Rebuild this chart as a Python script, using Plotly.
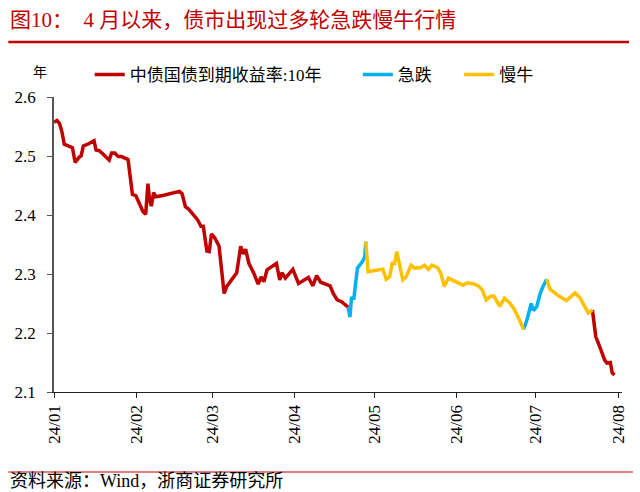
import pandas as pd
import plotly.graph_objects as go

# ---- data ----
dates = [
    "2024-01-01 00:00", "2024-01-02 03:00", "2024-01-03 02:00", "2024-01-04 00:00", "2024-01-04 21:00",
    "2024-01-06 11:00", "2024-01-07 23:00", "2024-01-09 00:00", "2024-01-09 15:00", "2024-01-10 12:00",
    "2024-01-11 06:00", "2024-01-12 02:00", "2024-01-13 18:00", "2024-01-15 06:00", "2024-01-16 03:00",
    "2024-01-16 21:00", "2024-01-18 02:00", "2024-01-19 14:00", "2024-01-21 20:00", "2024-01-22 18:00",
    "2024-01-23 23:00", "2024-01-25 05:00", "2024-01-26 12:00", "2024-01-28 23:00", "2024-01-29 15:00",
    "2024-01-30 15:00", "2024-01-31 21:00", "2024-02-02 09:00", "2024-02-03 14:00", "2024-02-04 15:00",
    "2024-02-05 11:00", "2024-02-06 03:00", "2024-02-06 18:00", "2024-02-07 15:00", "2024-02-08 09:00",
    "2024-02-11 02:00", "2024-02-14 06:00", "2024-02-17 09:00", "2024-02-18 09:00", "2024-02-19 15:00",
    "2024-02-20 20:00", "2024-02-22 03:00", "2024-02-23 06:00", "2024-02-24 05:00", "2024-02-25 12:00",
    "2024-02-26 09:00", "2024-02-27 18:00", "2024-02-28 15:00", "2024-02-29 11:00", "2024-03-01 18:00",
    "2024-03-03 08:00", "2024-03-05 06:00", "2024-03-06 06:00", "2024-03-08 08:00", "2024-03-10 00:00",
    "2024-03-11 12:00", "2024-03-12 11:00", "2024-03-13 09:00", "2024-03-14 14:00", "2024-03-16 12:00",
    "2024-03-18 02:00", "2024-03-19 05:00", "2024-03-20 06:00", "2024-03-21 11:00", "2024-03-23 08:00",
    "2024-03-25 00:00", "2024-03-26 06:00", "2024-03-27 02:00", "2024-03-28 09:00", "2024-03-30 06:00",
    "2024-03-31 05:00", "2024-04-02 08:00", "2024-04-04 06:00", "2024-04-06 02:00", "2024-04-07 17:00",
    "2024-04-09 05:00", "2024-04-10 17:00", "2024-04-12 09:00", "2024-04-14 06:00", "2024-04-15 11:00",
    "2024-04-16 23:00", "2024-04-18 14:00", "2024-04-20 11:00", "2024-04-21 02:00", "2024-04-21 18:00",
    "2024-04-22 08:00", "2024-04-23 06:00", "2024-04-24 14:00", "2024-04-26 11:00", "2024-04-27 09:00",
    "2024-04-27 18:00", "2024-04-28 15:00", "2024-05-01 03:00", "2024-05-04 05:00", "2024-05-05 11:00",
    "2024-05-06 18:00", "2024-05-07 17:00", "2024-05-08 15:00", "2024-05-09 11:00", "2024-05-10 12:00",
    "2024-05-11 17:00", "2024-05-12 23:00", "2024-05-14 20:00", "2024-05-16 03:00", "2024-05-18 14:00",
    "2024-05-19 21:00", "2024-05-21 11:00", "2024-05-22 17:00", "2024-05-24 20:00", "2024-05-26 02:00",
    "2024-05-27 09:00", "2024-05-28 23:00", "2024-05-31 03:00", "2024-06-02 00:00", "2024-06-03 12:00",
    "2024-06-05 02:00", "2024-06-07 15:00", "2024-06-09 12:00", "2024-06-10 17:00", "2024-06-12 05:00",
    "2024-06-13 20:00", "2024-06-15 03:00", "2024-06-17 08:00", "2024-06-19 02:00", "2024-06-21 03:00",
    "2024-06-22 14:00", "2024-06-24 12:00", "2024-06-25 17:00", "2024-06-26 08:00", "2024-06-27 14:00",
    "2024-06-29 05:00", "2024-06-30 02:00", "2024-07-01 08:00", "2024-07-02 14:00", "2024-07-03 14:00",
    "2024-07-05 02:00", "2024-07-06 08:00", "2024-07-07 14:00", "2024-07-09 12:00", "2024-07-12 14:00",
    "2024-07-14 11:00", "2024-07-15 17:00", "2024-07-17 14:00", "2024-07-19 11:00", "2024-07-20 18:00",
    "2024-07-22 08:00", "2024-07-23 14:00", "2024-07-25 02:00", "2024-07-26 23:00", "2024-07-27 20:00",
    "2024-07-29 02:00", "2024-07-29 20:00", "2024-07-30 17:00",
]
yield_10y = [
    2.557, 2.560, 2.555, 2.541, 2.520, 2.517, 2.514, 2.489, 2.494, 2.498,
    2.500, 2.517, 2.520, 2.523, 2.526, 2.510, 2.509, 2.503, 2.493, 2.505,
    2.505, 2.499, 2.499, 2.494, 2.471, 2.435, 2.433, 2.417, 2.406, 2.401,
    2.453, 2.425, 2.415, 2.438, 2.431, 2.433, 2.436, 2.440, 2.436, 2.414,
    2.410, 2.403, 2.398, 2.392, 2.381, 2.381, 2.339, 2.338, 2.368, 2.361,
    2.347, 2.267, 2.279, 2.291, 2.302, 2.347, 2.334, 2.342, 2.318, 2.301,
    2.283, 2.295, 2.287, 2.307, 2.312, 2.318, 2.290, 2.302, 2.293, 2.304,
    2.308, 2.284, 2.289, 2.294, 2.280, 2.297, 2.286, 2.283, 2.280, 2.267,
    2.256, 2.253, 2.246, 2.244, 2.227, 2.259, 2.259, 2.310, 2.321, 2.329,
    2.355, 2.304, 2.306, 2.308, 2.291, 2.295, 2.318, 2.318, 2.338, 2.318,
    2.290, 2.295, 2.315, 2.310, 2.311, 2.315, 2.308, 2.315, 2.311, 2.301,
    2.279, 2.293, 2.289, 2.284, 2.281, 2.285, 2.283, 2.279, 2.273, 2.256,
    2.262, 2.263, 2.245, 2.259, 2.251, 2.242, 2.225, 2.211, 2.206, 2.222,
    2.250, 2.238, 2.245, 2.267, 2.278, 2.291, 2.274, 2.270, 2.263, 2.255,
    2.262, 2.268, 2.260, 2.246, 2.234, 2.239, 2.194, 2.177, 2.154, 2.149,
    2.150, 2.132, 2.129,
]
# periods highlighted in the chart
sharp_drop_periods = [("2024-04-21 02:00", "2024-04-27 18:00"),
                      ("2024-06-26 08:00", "2024-07-05 02:00")]
slow_bull_periods = [("2024-04-27 18:00", "2024-06-26 08:00"),
                     ("2024-07-05 02:00", "2024-07-22 08:00")]
month_ticks = ["2024-01-01", "2024-02-01", "2024-03-01", "2024-04-01",
               "2024-05-01", "2024-06-01", "2024-07-01", "2024-08-01"]
month_labels = ["24/01", "24/02", "24/03", "24/04", "24/05", "24/06", "24/07", "24/08"]
y_ticks = [2.1, 2.2, 2.3, 2.4, 2.5, 2.6]
y_labels = ["2.1", "2.2", "2.3", "2.4", "2.5", "2.6"]

# ---- build ----
df = pd.DataFrame({"date": pd.to_datetime(dates), "y": yield_10y})


def in_periods(periods, strict=False):
    m = pd.Series(False, index=df.index)
    for a, b in periods:
        a, b = pd.Timestamp(a), pd.Timestamp(b)
        if strict:
            m |= (df["date"] > a) & (df["date"] < b)
        else:
            m |= (df["date"] >= a) & (df["date"] <= b)
    return m


highlight = sharp_drop_periods + slow_bull_periods
red_y = df["y"].where(~in_periods(highlight, strict=True), None)
blue_y = df["y"].where(in_periods(sharp_drop_periods), None)
yel_y = df["y"].where(in_periods(slow_bull_periods), None)

RED, BLUE, YEL = "#C00000", "#00B0F0", "#FFC000"
FONT = "Liberation Serif, 'Noto Sans CJK SC', serif"

fig = go.Figure()
fig.add_trace(go.Scatter(x=df["date"], y=red_y, mode="lines", name="中债国债到期收益率:10年",
                         line=dict(color=RED, width=3.5), connectgaps=False, legend="legend"))
fig.add_trace(go.Scatter(x=df["date"], y=blue_y, mode="lines", name="急跌",
                         line=dict(color=BLUE, width=3.5), connectgaps=False, legend="legend2"))
fig.add_trace(go.Scatter(x=df["date"], y=yel_y, mode="lines", name="慢牛",
                         line=dict(color=YEL, width=3.5), connectgaps=False, legend="legend3"))

L, R, T, B = 54, 14, 97, 100
PW, PH = 640 - L - R, 492 - T - B


def px(x):
    return (x - L) / PW


def py(y):
    return (492 - B - y) / PH


def leg(xpix):
    return dict(orientation="h", x=px(xpix), y=py(75), xanchor="left", yanchor="middle",
                font=dict(size=17, family=FONT), bgcolor="rgba(0,0,0,0)", itemwidth=30)


fig.update_layout(
    width=640, height=492,
    margin=dict(l=L, r=R, t=T, b=B),
    paper_bgcolor="white", plot_bgcolor="white",
    font=dict(family=FONT, color="black", size=16),
    showlegend=True,
    legend=leg(90),
    legend2=leg(360),
    legend3=leg(462),
    xaxis=dict(type="date", range=["2024-01-01", "2024-08-02 12:00"],
               tickmode="array", tickvals=month_ticks, ticktext=month_labels,
               tickangle=-90, ticks="outside", ticklen=5, tickcolor="#222",
               showline=True, linecolor="#222", linewidth=1.2,
               showgrid=False, zeroline=False,
               tickfont=dict(size=17, family=FONT)),
    yaxis=dict(range=[2.1, 2.6], tickmode="array", tickvals=y_ticks, ticktext=y_labels,
               ticks="outside", ticklen=5, tickcolor="#555",
               showline=True, linecolor="#555", linewidth=1.5,
               showgrid=False, zeroline=False, ticklabelstandoff=8,
               tickfont=dict(size=17, family=FONT)),
)

fig.add_annotation(xref="paper", yref="paper", x=px(8), y=py(20), xanchor="left", yanchor="middle",
                   text="图10：  4 月以来，债市出现过多轮急跌慢牛行情", showarrow=False,
                   font=dict(size=21, color=RED, family=FONT))
fig.add_shape(type="line", xref="paper", yref="paper", x0=px(8), x1=px(633), y0=py(42), y1=py(42),
              line=dict(color=RED, width=2.5))
fig.add_annotation(xref="paper", yref="paper", x=px(40), y=py(72), xanchor="center", yanchor="middle",
                   text="年", showarrow=False, font=dict(size=14, family=FONT))
fig.add_shape(type="line", xref="paper", yref="paper", x0=px(8), x1=px(637), y0=py(472), y1=py(472),
              line=dict(color=RED, width=1))
fig.add_annotation(xref="paper", yref="paper", x=px(8), y=py(481), xanchor="left", yanchor="middle",
                   text="资料来源：Wind，浙商证券研究所", showarrow=False,
                   font=dict(size=18, family=FONT))

fig.write_html("out.html")
